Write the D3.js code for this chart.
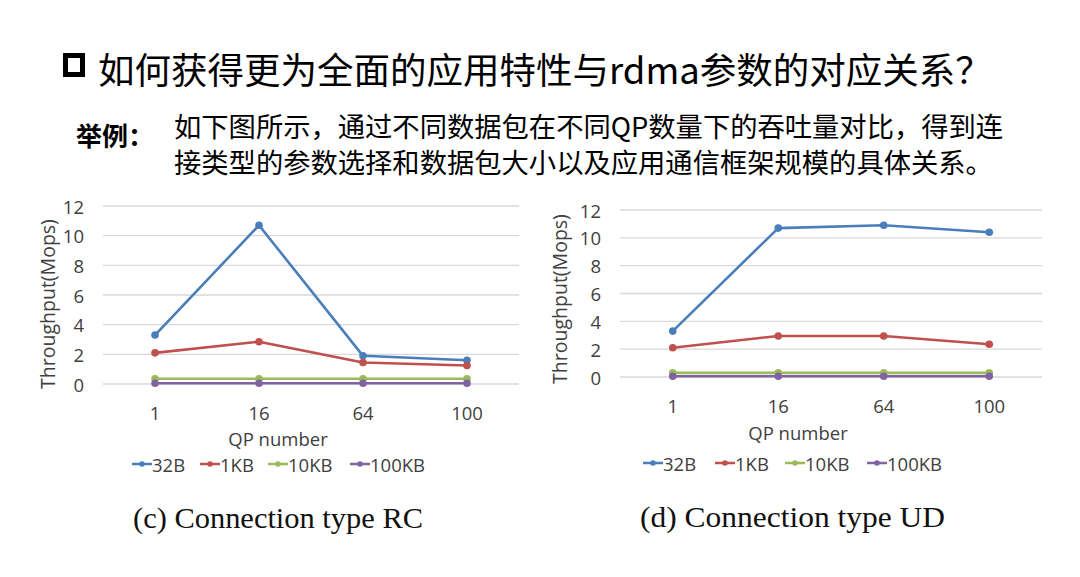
<!DOCTYPE html>
<html><head><meta charset="utf-8">
<script src="https://cdn.jsdelivr.net/npm/d3@7"></script>
<style>
html,body{margin:0;padding:0;background:#fff;}
svg{display:block;}
</style></head>
<body>
<svg id="c" width="1080" height="577"></svg>
<script>
// ---- data ----
const categories = ["1", "16", "64", "100"];
const seriesNames = ["32B", "1KB", "10KB", "100KB"];
const yTicks = [0, 2, 4, 6, 8, 10, 12];
// RC connection type
const rc32B = [3.3, 10.7, 1.9, 1.6];
const rc1KB = [2.1, 2.85, 1.45, 1.25];
const rc10KB = [0.35, 0.35, 0.35, 0.35];
const rc100KB = [0.05, 0.05, 0.05, 0.05];
// UD connection type
const ud32B = [3.3, 10.7, 10.9, 10.4];
const ud1KB = [2.1, 2.95, 2.95, 2.35];
const ud10KB = [0.3, 0.3, 0.3, 0.3];
const ud100KB = [0.05, 0.05, 0.05, 0.05];
const colors = ["#4a7ebb", "#c0504d", "#9bbb59", "#8064a2"];

const titleText = "如何获得更为全面的应用特性与rdma参数的对应关系？";
const labelText = "举例：";
const bodyLine1 = "如下图所示，通过不同数据包在不同QP数量下的吞吐量对比，得到连";
const bodyLine2 = "接类型的参数选择和数据包大小以及应用通信框架规模的具体关系。";

const svg = d3.select("#c");
const cjk = "'Noto Sans CJK SC', 'Noto Sans', sans-serif";
const axisFont = "'Open Sans', 'Noto Sans', sans-serif";
const axisColor = "#404040";

// header
svg.append("rect").attr("x", 65.5).attr("y", 55.5).attr("width", 17).attr("height", 19)
  .attr("fill", "none").attr("stroke", "#000").attr("stroke-width", 5);
svg.append("text").attr("x", 98).attr("y", 68).attr("dominant-baseline", "central")
  .attr("font-family", cjk).attr("font-size", 36.5).attr("fill", "#000").text(titleText);
svg.append("text").attr("x", 76).attr("y", 134).attr("dominant-baseline", "central")
  .attr("font-family", cjk).attr("font-weight", "bold").attr("font-size", 26).attr("fill", "#000").text(labelText);
svg.append("text").attr("x", 174).attr("y", 125).attr("dominant-baseline", "central")
  .attr("font-family", cjk).attr("font-size", 27.3).attr("fill", "#000").text(bodyLine1);
svg.append("text").attr("x", 174).attr("y", 161).attr("dominant-baseline", "central")
  .attr("font-family", cjk).attr("font-size", 27.3).attr("fill", "#000").text(bodyLine2);

const panels = [
  {series: [rc32B, rc1KB, rc10KB, rc100KB], x0: 103, x1: 519, yTop: 206, yBot: 384,
   tickX: 84, ylabX: 47, ylabY: 304, xTickY: 412, xTitleY: 438, legY: 464, legX: [132, 200, 268, 350],
   caption: "(c) Connection type RC", capX: 133, capY: 528, capW: 290},
  {series: [ud32B, ud1KB, ud10KB, ud100KB], x0: 620, x1: 1042, yTop: 210, yBot: 377,
   tickX: 601, ylabX: 559, ylabY: 299, xTickY: 405, xTitleY: 432, legY: 463, legX: [643, 715, 785, 867],
   caption: "(d) Connection type UD", capX: 640, capY: 527, capW: 305}
];

panels.forEach(p => {
  const g = svg.append("g");
  const x = d3.scaleBand().domain(categories).range([p.x0, p.x1]);
  const y = d3.scaleLinear().domain([0, 12]).range([p.yBot, p.yTop]);
  // gridlines
  g.selectAll("line.grid").data(yTicks).join("line")
    .attr("x1", p.x0).attr("x2", p.x1).attr("y1", d => y(d)).attr("y2", d => y(d))
    .attr("stroke", "#d9d9d9").attr("stroke-width", 1.3);
  // y tick labels
  g.selectAll("text.yt").data(yTicks).join("text")
    .attr("x", p.tickX).attr("y", d => y(d)).attr("text-anchor", "end")
    .attr("dominant-baseline", "central").attr("font-family", axisFont)
    .attr("font-size", 18.5).attr("fill", axisColor).text(d => d);
  // x tick labels
  g.selectAll("text.xt").data(categories).join("text")
    .attr("x", d => x(d) + x.bandwidth() / 2).attr("y", p.xTickY).attr("text-anchor", "middle")
    .attr("dominant-baseline", "central").attr("font-family", axisFont)
    .attr("font-size", 18.5).attr("fill", axisColor).text(d => d);
  // axis titles
  g.append("text").attr("x", (p.x0 + p.x1) / 2 - 33).attr("y", p.xTitleY)
    .attr("text-anchor", "middle").attr("dominant-baseline", "central")
    .attr("font-family", axisFont).attr("font-size", 18.5).attr("fill", axisColor).text("QP number");
  g.append("text").attr("transform", `translate(${p.ylabX},${p.ylabY}) rotate(-90)`)
    .attr("text-anchor", "middle").attr("dominant-baseline", "central")
    .attr("font-family", axisFont).attr("font-size", 19.5).attr("fill", axisColor).text("Throughput(Mops)");
  // lines
  const line = d3.line().x((d, i) => x(categories[i]) + x.bandwidth() / 2).y(d => y(d));
  p.series.forEach((s, k) => {
    g.append("path").attr("d", line(s)).attr("fill", "none")
      .attr("stroke", colors[k]).attr("stroke-width", 2.6).attr("stroke-linejoin", "round");
    g.selectAll(null).data(s).join("circle")
      .attr("cx", (d, i) => x(categories[i]) + x.bandwidth() / 2).attr("cy", d => y(d))
      .attr("r", 3.8).attr("fill", colors[k]);
  });
  // legend
  seriesNames.forEach((n, k) => {
    const lx = p.legX[k];
    g.append("line").attr("x1", lx).attr("x2", lx + 20).attr("y1", p.legY).attr("y2", p.legY)
      .attr("stroke", colors[k]).attr("stroke-width", 2.5);
    g.append("circle").attr("cx", lx + 10).attr("cy", p.legY).attr("r", 2.8).attr("fill", colors[k]);
    g.append("text").attr("x", lx + 20).attr("y", p.legY).attr("dominant-baseline", "central")
      .attr("font-family", axisFont).attr("font-size", 18.5).attr("fill", axisColor).text(n);
  });
  // caption
  svg.append("text").attr("x", p.capX).attr("y", p.capY)
    .attr("font-family", "'Liberation Serif', 'Times New Roman', serif").attr("font-size", 29)
    .attr("textLength", p.capW).attr("lengthAdjust", "spacingAndGlyphs")
    .attr("fill", "#111").text(p.caption);
});
</script>
</body></html>
